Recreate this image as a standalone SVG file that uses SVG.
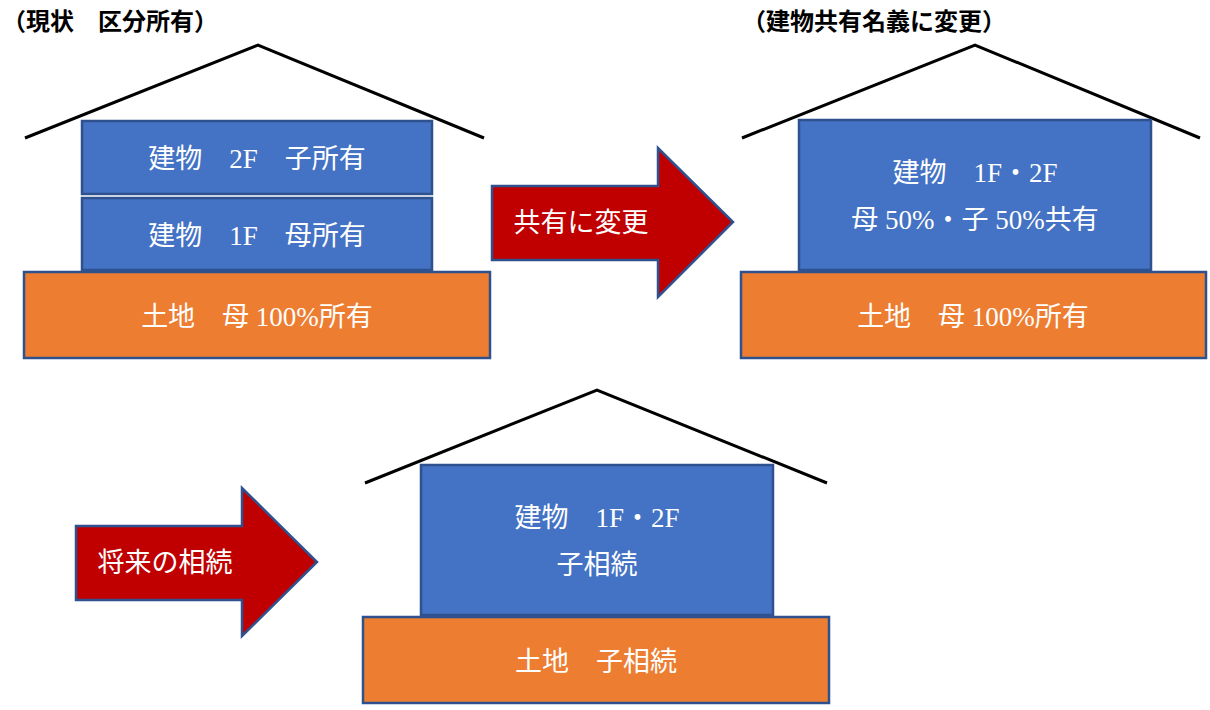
<svg xmlns="http://www.w3.org/2000/svg" width="1210" height="710" viewBox="0 0 1210 710">
<style>
.roof{fill:none;stroke:#000;stroke-width:3}
.b{fill:#4472C4;stroke:#2F528F;stroke-width:2.5}
.o{fill:#ED7D31;stroke:#2F528F;stroke-width:2.5}
.a{fill:#C00000;stroke:#2F528F;stroke-width:2.5}
.t{font-family:"Liberation Serif","Noto Sans CJK JP",serif;font-size:27px;fill:#fff;text-anchor:middle}
.h{font-family:"Liberation Serif","Noto Sans CJK JP",serif;font-size:24px;font-weight:bold;fill:#000}
</style>
<rect width="1210" height="710" fill="#fff"/>
<text class="h" x="2" y="30">（現状　区分所有）</text>
<text class="h" x="742" y="30">（建物共有名義に変更）</text>
<g id="house1">
<polyline class="roof" points="25,138 258,45 484,138"/>
<g id="b1-2f"><rect class="b" x="82" y="121" width="350" height="73"/><text class="t" x="257" y="168">建物　2F　子所有</text></g>
<g id="b1-1f"><rect class="b" x="82" y="198" width="350" height="72"/><text class="t" x="257" y="245">建物　1F　母所有</text></g>
<g id="l1"><rect class="o" x="24" y="272" width="466" height="86"/><text class="t" x="257" y="326">土地　母 100%所有</text></g>
</g>
<g id="house2">
<polyline class="roof" points="742,138 975,45 1200,138"/>
<g id="b2"><rect class="b" x="799" y="120" width="352" height="150"/><text class="t" x="975" y="182">建物　1F・2F</text><text class="t" x="975" y="229">母 50%・子 50%共有</text></g>
<g id="l2"><rect class="o" x="741" y="272" width="465" height="86"/><text class="t" x="973" y="326">土地　母 100%所有</text></g>
</g>
<g id="house3">
<polyline class="roof" points="365,483 597,390 827,483"/>
<g id="b3"><rect class="b" x="421" y="465" width="352" height="150"/><text class="t" x="597" y="527">建物　1F・2F</text><text class="t" x="597" y="574">子相続</text></g>
<g id="l3"><rect class="o" x="363" y="617" width="466" height="86"/><text class="t" x="596" y="671">土地　子相続</text></g>
</g>
<g id="connectors">
<g id="arrow1"><polygon class="a" points="492,186 658,186 658,148 733,222 658,297 658,260 492,260"/><text class="t" x="581" y="232">共有に変更</text></g>
<g id="arrow2"><polygon class="a" points="76,526 242,526 242,488 317,562 242,636 242,600 76,600"/><text class="t" x="165" y="572">将来の相続</text></g>
</g>
</svg>
